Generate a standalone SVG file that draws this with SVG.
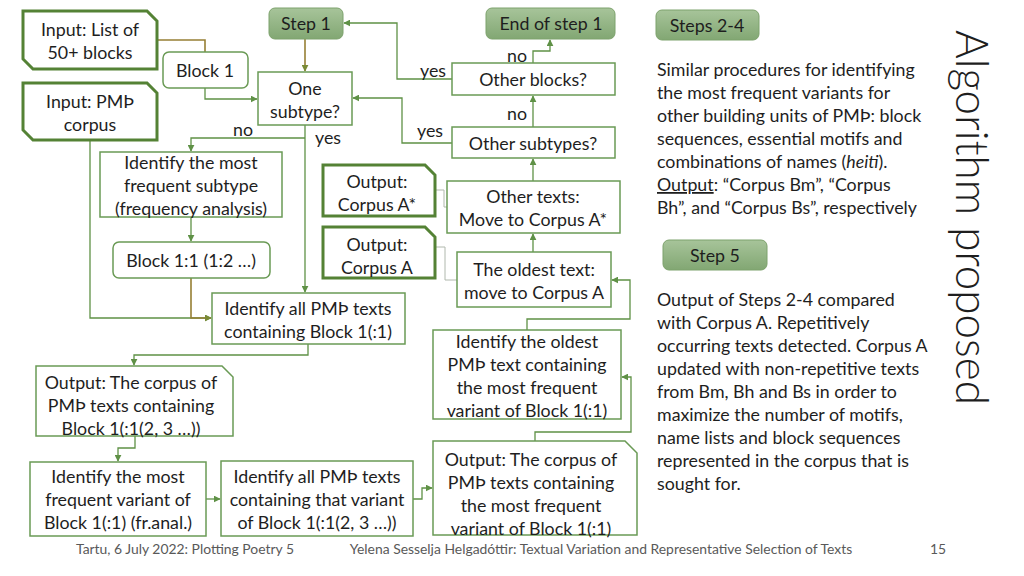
<svg xmlns="http://www.w3.org/2000/svg" width="1024" height="576" viewBox="0 0 1024 576">
<style>
text{font-family:Lato,"Liberation Sans",sans-serif;fill:#1e1e1e;font-size:17.8px}
.c{text-anchor:middle;dominant-baseline:central}
.n{fill:#fff;stroke:#6a9a55;stroke-width:1.5}
.t{fill:#fff;stroke:#548235;stroke-width:3}
.s{fill:url(#g);stroke:#7da26c;stroke-width:1}
.w{fill:none;stroke:#5f9146;stroke-width:1.3}
.o{fill:none;stroke:#967f34;stroke-width:1.6}
.gl{fill:none;stroke:#b0b8ad;stroke-width:1}
.ft{font-size:13.9px;fill:#595959}
.p{font-size:17.8px}
</style>
<defs>
<linearGradient id="g" x1="0" y1="0" x2="0" y2="1"><stop offset="0" stop-color="#a7c49a"/><stop offset="1" stop-color="#82a773"/></linearGradient>
<marker id="a" viewBox="0 0 10 10" refX="9" refY="5" markerWidth="7" markerHeight="7" orient="auto" markerUnits="userSpaceOnUse"><path d="M0,0 L10,5 L0,10 Z" fill="#5f9146"/></marker>
<marker id="ao" viewBox="0 0 10 10" refX="9" refY="5" markerWidth="7" markerHeight="7" orient="auto" markerUnits="userSpaceOnUse"><path d="M0,0 L10,5 L0,10 Z" fill="#7a8a36"/></marker>
</defs>

<g id="connectors">
<path class="o" d="M157,40 H205 V52"/>
<path class="w" d="M205,88 V99 H257" marker-end="url(#a)"/>
<path class="o" d="M305,39 V71" marker-end="url(#ao)"/>
<path class="w" d="M452,79 H397 V23 H344" marker-end="url(#a)"/>
<path class="w" d="M533,63 V51 H550 V40" marker-end="url(#a)"/>
<path class="w" d="M533,127 V96" marker-end="url(#a)"/>
<path class="w" d="M452,143 H402 V98 H353" marker-end="url(#a)"/>
<path class="w" d="M533,181 V159" marker-end="url(#a)"/>
<path class="w" d="M533,252 V234" marker-end="url(#a)"/>
<path class="gl" d="M435,190 H444 V207 H447"/>
<path class="gl" d="M435,247 H445 V280 H457"/>
<path class="w" d="M305,125 V292" marker-end="url(#a)"/>
<path class="w" d="M305,138 H191 V151" marker-end="url(#a)"/>
<path class="w" d="M191,217 V241" marker-end="url(#a)"/>
<path class="w" d="M90,140 V318 H211" marker-end="url(#a)"/>
<path class="o" d="M191,278 V318 H211" marker-end="url(#ao)"/>
<path class="w" d="M308,344 V355 H134 V365" marker-end="url(#a)"/>
<path class="w" d="M135,436 V448 H118 V461" marker-end="url(#a)"/>
<path class="w" d="M206,499 H220" marker-end="url(#a)"/>
<path class="w" d="M413,499 H422 V488 H432" marker-end="url(#a)"/>
<path class="w" d="M535,441 V432 H631 V377 H622" marker-end="url(#a)"/>
<path class="w" d="M527,330 V319 H630 V280 H612" marker-end="url(#a)"/>
</g>

<g id="labels">
<text class="c" x="433" y="70">yes</text>
<text class="c" x="517" y="55">no</text>
<text class="c" x="517" y="113">no</text>
<text class="c" x="430" y="130">yes</text>
<text class="c" x="243" y="129">no</text>
<text class="c" x="328" y="137">yes</text>
</g>

<g id="input-list"><path class="t" d="M23,11 H147 L157,21 V69 H33 L23,59 Z"/><text class="c" x="90" y="29">Input: List of</text><text class="c" x="90" y="52">50+ blocks</text></g>
<g id="input-corpus"><path class="t" d="M23,83 H147 L157,93 V140 H33 L23,130 Z"/><text class="c" x="90" y="101">Input: PMÞ</text><text class="c" x="90" y="124">corpus</text></g>
<g id="block1"><rect class="n" x="163" y="52" width="85" height="36" rx="6"/><text class="c" x="205" y="70">Block 1</text></g>
<g id="step1"><rect class="s" x="269" y="8" width="74" height="31" rx="6"/><text class="c" x="306" y="23">Step 1</text></g>
<g id="end-step1"><rect class="s" x="486" y="8" width="129" height="31" rx="6"/><text class="c" x="551" y="23">End of step 1</text></g>
<g id="one-subtype"><rect class="n" x="258" y="72" width="94" height="53"/><text class="c" x="305" y="88">One</text><text class="c" x="305" y="111">subtype?</text></g>
<g id="other-blocks"><rect class="n" x="452" y="63" width="163" height="32"/><text class="c" x="533" y="79">Other blocks?</text></g>
<g id="other-subtypes"><rect class="n" x="452" y="127" width="163" height="31"/><text class="c" x="533" y="143">Other subtypes?</text></g>
<g id="identify-subtype"><rect class="n" x="100" y="152" width="182" height="65"/><text class="c" x="191" y="162">Identify the most</text><text class="c" x="191" y="185">frequent subtype</text><text class="c" x="191" y="208">(frequency analysis)</text></g>
<g id="output-a-star"><path class="t" d="M323,165 H425 L435,175 V216 H323 Z"/><text class="c" x="377" y="181">Output:</text><text class="c" x="377" y="204">Corpus A*</text></g>
<g id="other-texts"><rect class="n" x="447" y="181" width="173" height="52"/><text class="c" x="533" y="196">Other texts:</text><text class="c" x="533" y="219">Move to Corpus A*</text></g>
<g id="output-a"><path class="t" d="M323,227 H425 L435,237 V278 H323 Z"/><text class="c" x="377" y="244">Output:</text><text class="c" x="377" y="267">Corpus A</text></g>
<g id="oldest-text"><rect class="n" x="457" y="252" width="154" height="55"/><text class="c" x="534" y="269">The oldest text:</text><text class="c" x="534" y="292">move to Corpus A</text></g>
<g id="block11"><rect class="n" x="113" y="242" width="157" height="36" rx="6"/><text class="c" x="191" y="260">Block 1:1 (1:2 …)</text></g>
<g id="identify-all"><rect class="n" x="212" y="293" width="193" height="51"/><text class="c" x="308" y="308">Identify all PMÞ texts</text><text class="c" x="308" y="331">containing Block 1(:1)</text></g>
<g id="identify-oldest"><rect class="n" x="433" y="330" width="188" height="89"/><text class="c" x="527" y="341">Identify the oldest</text><text class="c" x="527" y="364">PMÞ text containing</text><text class="c" x="527" y="387">the most frequent</text><text class="c" x="527" y="410">variant of Block 1(:1)</text></g>
<g id="output-block-corpus"><path class="n" d="M36,366 H222 L233,377 V436 H36 Z"/><text class="c" x="131" y="382">Output: The corpus of</text><text class="c" x="131" y="405">PMÞ texts containing</text><text class="c" x="131" y="428">Block 1(:1(2, 3 …))</text></g>
<g id="identify-variant"><rect class="n" x="30" y="462" width="176" height="74"/><text class="c" x="118" y="476">Identify the most</text><text class="c" x="118" y="499">frequent variant of</text><text class="c" x="118" y="522">Block 1(:1) (fr.anal.)</text></g>
<g id="identify-all-variant"><rect class="n" x="221" y="461" width="192" height="75"/><text class="c" x="317" y="476">Identify all PMÞ texts</text><text class="c" x="317" y="499">containing that variant</text><text class="c" x="317" y="522">of Block 1(:1(2, 3 …))</text></g>
<g id="output-variant-corpus"><path class="n" d="M433,441 H625 L637,453 V535 H433 Z"/><text class="c" x="531" y="459">Output: The corpus of</text><text class="c" x="531" y="482">PMÞ texts containing</text><text class="c" x="531" y="505">the most frequent</text><text class="c" x="531" y="528">variant of Block 1(:1)</text></g>

<g id="steps24"><rect class="s" x="656" y="10" width="103" height="30" rx="6"/><text class="c" x="707" y="25">Steps 2-4</text></g>
<g id="steps24-text">
<text class="p" x="657" y="76">Similar procedures for identifying</text>
<text class="p" x="657" y="99">the most frequent variants  for</text>
<text class="p" x="657" y="122">other building units of PMÞ: block</text>
<text class="p" x="657" y="145">sequences, essential motifs and</text>
<text class="p" x="657" y="168">combinations of names (<tspan font-style="italic">heiti</tspan>).</text>
<text class="p" x="657" y="191"><tspan text-decoration="underline">Output</tspan>: “Corpus Bm”, “Corpus</text>
<text class="p" x="657" y="214">Bh”, and “Corpus Bs”, respectively</text>
</g>
<g id="step5"><rect class="s" x="663" y="240" width="104" height="30" rx="6"/><text class="c" x="715" y="255">Step 5</text></g>
<g id="step5-text">
<text class="p" x="657" y="306">Output of Steps 2-4 compared</text>
<text class="p" x="657" y="329">with Corpus A. Repetitively</text>
<text class="p" x="657" y="352">occurring texts detected. Corpus A</text>
<text class="p" x="657" y="375">updated with non-repetitive texts</text>
<text class="p" x="657" y="398">from Bm, Bh and Bs in order to</text>
<text class="p" x="657" y="421">maximize the number of motifs,</text>
<text class="p" x="657" y="444">name lists and block sequences</text>
<text class="p" x="657" y="467">represented in the corpus that is</text>
<text class="p" x="657" y="490">sought for.</text>
</g>
<text x="0" y="0" transform="translate(956,30) rotate(90)" font-size="46" font-weight="300" textLength="375" lengthAdjust="spacingAndGlyphs" style="font-size:46px;fill:#1e1e1e">Algorithm proposed</text>
<g id="footer">
<text class="ft" x="185" y="554" text-anchor="middle">Tartu, 6 July 2022: Plotting Poetry 5</text>
<text class="ft" x="601" y="554" text-anchor="middle">Yelena Sesselja Helgadóttir: Textual Variation and Representative Selection of Texts</text>
<text class="ft" x="938" y="554" text-anchor="middle">15</text>
</g>
</svg>
